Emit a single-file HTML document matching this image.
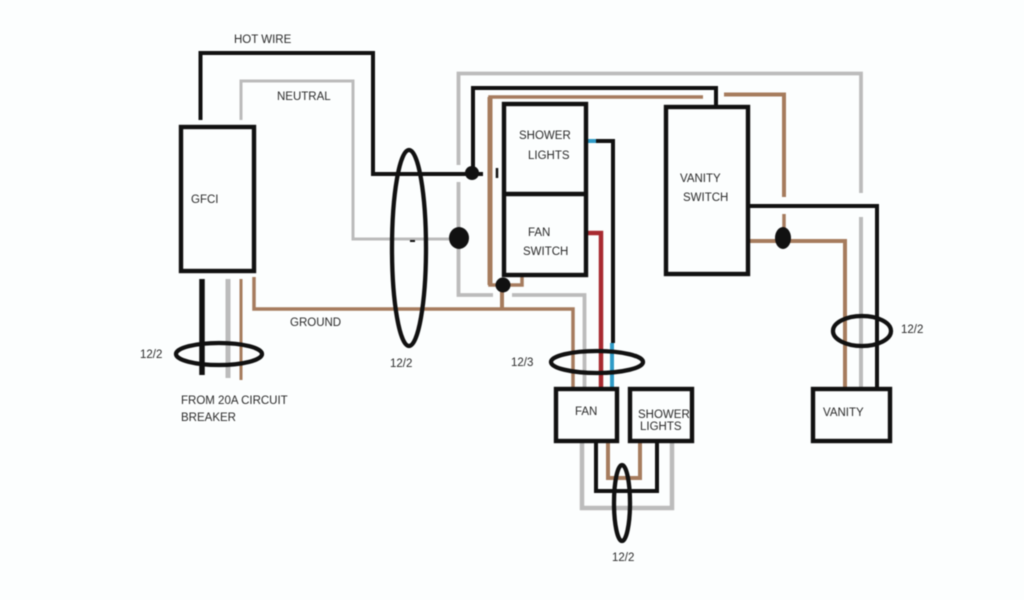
<!DOCTYPE html>
<html><head><meta charset="utf-8"><style>
html,body{margin:0;padding:0;background:#fcfefe;width:1024px;height:600px;overflow:hidden}
svg{display:block;filter:blur(0.45px)}
text{font-family:"Liberation Sans",sans-serif;font-size:11.5px;fill:#2a2a2a}
</style></head><body>
<svg width="1024" height="600" viewBox="0 0 1024 600" fill="none">
<rect width="1024" height="600" fill="#fcfefe"/>
<g stroke="#bcbcbc" stroke-width="3">
<path d="M241 120V81H353V239H458" stroke-width="3"/>
<path d="M458.500 165V73.500H861V193" stroke-width="3.800"/>
<path d="M458.500 182V295H493M512 295H584.500V388" stroke-width="3.800"/>
<path d="M861 217V387" stroke-width="4"/>
<path d="M228 279V378" stroke-width="5"/>
<path d="M582 443V508H672V443" stroke-width="4.500"/>
</g>
<g stroke="#a67c5e" stroke-width="3.500">
<path d="M254 277V309H573V388"/>
<path d="M241 279V380" stroke-width="3"/>
<path d="M703 97H490V285H522V276" stroke-width="3.500"/>
<path d="M490 97V285" stroke-width="5"/>
<path d="M502 285V310" stroke-width="4"/>
<path d="M724 94.500H784V197" stroke-width="4"/>
<path d="M784 214V238"/>
<path d="M749 241H845V388" stroke-width="4"/>
<path d="M608 443V478H640V443" stroke-width="4"/>
</g>
<g stroke="#111" stroke-width="4">
<path d="M200.500 120V53H373V174H483"/>
<path d="M473 172V88H716V105"/>
<path d="M595 141H613V343"/>
<path d="M750 206H877V387"/>
<path d="M202 279V375" stroke-width="5.500"/>
<path d="M596 443V491H657V443"/>
<path d="M497 168V178" stroke-width="2.500"/>
</g>
<path d="M587 141H596M612 343V388" stroke="#2f9bc7" stroke-width="4"/>
<path d="M587 233H601V388" stroke="#a82a30" stroke-width="4.500"/>
<g stroke="#111" stroke-width="4.400">
<rect x="181" y="127" width="73" height="144"/>
<rect x="504" y="104" width="82" height="171"/>
<path d="M504 194H588"/>
<rect x="666" y="107" width="82" height="167"/>
<rect x="556" y="389" width="61" height="52"/>
<rect x="630" y="389" width="62" height="52"/>
<rect x="813" y="389" width="77" height="52"/>
</g>
<g stroke="#111" stroke-width="4.300">
<ellipse cx="219" cy="354" rx="43" ry="11"/>
<ellipse cx="409" cy="248" rx="17" ry="98"/>
<ellipse cx="597" cy="362" rx="46" ry="11"/>
<ellipse cx="622" cy="503" rx="8" ry="38"/>
<ellipse cx="862" cy="331" rx="29" ry="15"/>
</g>
<g fill="#111">
<circle cx="472" cy="173" r="7"/>
<ellipse cx="459" cy="238" rx="10" ry="11"/>
<circle cx="503" cy="285" r="7.500"/>
<ellipse cx="783" cy="238" rx="8" ry="11"/>
<rect x="410" y="240" width="5" height="2"/>
</g>
<text x="234" y="43">HOT WIRE</text>
<text x="277" y="100">NEUTRAL</text>
<text x="191" y="203">GFCI</text>
<text x="290" y="326">GROUND</text>
<text x="140" y="358">12/2</text>
<text x="390" y="367">12/2</text>
<text x="181" y="404">FROM 20A CIRCUIT</text>
<text x="181" y="421">BREAKER</text>
<text x="519" y="139">SHOWER</text>
<text x="528" y="159">LIGHTS</text>
<text x="528" y="236">FAN</text>
<text x="523" y="255">SWITCH</text>
<text x="680" y="182">VANITY</text>
<text x="683" y="201">SWITCH</text>
<text x="511" y="366">12/3</text>
<text x="575" y="415">FAN</text>
<text x="638" y="418">SHOWER</text>
<text x="640" y="430">LIGHTS</text>
<text x="823" y="416">VANITY</text>
<text x="901" y="333">12/2</text>
<text x="612" y="561">12/2</text>
</svg>
</body></html>
